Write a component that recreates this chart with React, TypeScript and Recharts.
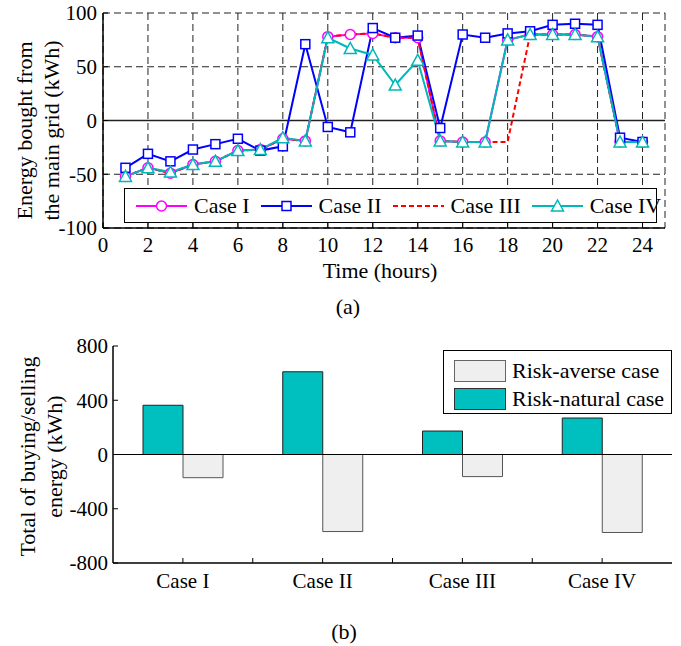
import {
  LineChart,
  Line,
  BarChart,
  Bar,
  XAxis,
  YAxis,
  CartesianGrid,
  ReferenceLine,
  Legend,
} from 'recharts'

const FONT = '"Liberation Serif", "Times New Roman", serif'

// (a) energy bought from the main grid, per hour
const hours = [1, 2, 3, 4, 5, 6, 7, 8, 9, 10, 11, 12, 13, 14, 15, 16, 17, 18, 19, 20, 21, 22, 23, 24]
const caseI = [-52, -44, -49, -41, -38, -28, -27, -17, -19, 78, 80, 81, 77, 77, -19, -20, -20, 75, 80, 80, 80, 78, -20, -20]
const caseII = [-44, -31, -38, -27, -22, -17, -28, -24, 71, -6, -11, 86, 77, 79, -7, 80, 77, 81, 83, 89, 90, 89, -16, -20]
const caseIII = [-52, -44, -49, -41, -38, -28, -27, -17, -19, 78, 80, 81, 77, 77, -19, -20, -20, -20, 80, 80, 80, 78, -20, -20]
const caseIV = [-52, -44, -48, -41, -38, -28, -27, -16, -19, 77, 67, 61, 33, 56, -19, -20, -20, 75, 80, 80, 80, 78, -20, -20]
const hourTicks = [0, 2, 4, 6, 8, 10, 12, 14, 16, 18, 20, 22, 24]
const energyTicks = [-100, -50, 0, 50, 100]

// (b) totals per case
const cases = ['Case I', 'Case II', 'Case III', 'Case IV']
const riskNatural = [363, 610, 173, 269]
const riskAverse = [-171, -568, -163, -575]
const caseTicks = [1, 1.5, 2, 2.5, 3, 3.5, 4]
const totalTicks = [-800, -400, 0, 400, 800]

const hourly = hours.map((h, i) => ({
  hour: h,
  c1: caseI[i],
  c2: caseII[i],
  c3: caseIII[i],
  c4: caseIV[i],
}))

const totals = cases.map((c, i) => ({
  pos: i + 1,
  name: c,
  natural: riskNatural[i],
  averse: riskAverse[i],
}))

const MAGENTA = '#FF00FF'
const BLUE = '#0000FF'
const RED = '#FF0000'
const CYAN = '#00B8B8'
const TEAL = '#00BFBF'
const LIGHT = '#EFEFEF'

const axisLine = { stroke: '#000', strokeWidth: 1.5 }
const tickLine = { stroke: '#000', strokeWidth: 1 }
const tickFont = { fill: '#000', fontSize: 21, fontFamily: FONT }

function CircleDot(props: any) {
  const { cx, cy, index } = props
  if (cx == null || cy == null) return <g key={'c' + index} />
  return <circle key={'c' + index} cx={cx} cy={cy} r={5} fill="#fff" stroke={MAGENTA} strokeWidth={1.5} />
}

function SquareDot(props: any) {
  const { cx, cy, index } = props
  if (cx == null || cy == null) return <g key={'s' + index} />
  return <rect key={'s' + index} x={cx - 4.5} y={cy - 4.5} width={9} height={9} fill="#fff" stroke={BLUE} strokeWidth={1.5} />
}

function TriangleDot(props: any) {
  const { cx, cy, index } = props
  if (cx == null || cy == null) return <g key={'t' + index} />
  const pts = `${cx},${cy - 6} ${cx - 6},${cy + 5} ${cx + 6},${cy + 5}`
  return <polygon key={'t' + index} points={pts} fill="#fff" stroke={CYAN} strokeWidth={1.5} />
}

const yLabel = (lines: string[], xs: number[], shift: number) => (props: any) => {
  const vb = props.viewBox || { x: 0, y: 0, width: 0, height: 0 }
  const cy = vb.y + vb.height / 2 + shift
  return (
    <g>
      {lines.map((t, i) => (
        <text
          key={t}
          x={vb.x + xs[i]}
          y={cy}
          transform={`rotate(-90, ${vb.x + xs[i]}, ${cy})`}
          textAnchor="middle"
          dominantBaseline="central"
          fontSize={22}
          fontFamily={FONT}
          fill="#000"
        >
          {t}
        </text>
      ))}
    </g>
  )
}

const timeLabel = (props: any) => {
  const vb = props.viewBox || { x: 0, y: 0, width: 0, height: 0 }
  return (
    <text x={vb.x + vb.width / 2 - 4} y={vb.y + 50} textAnchor="middle" fontSize={22} fontFamily={FONT} fill="#000">
      Time (hours)
    </text>
  )
}

function LegendLine({ color, dash, marker }: { color: string; dash?: string; marker?: string }) {
  return (
    <svg width={51} height={20} style={{ display: 'block' }}>
      <line x1={0} y1={10} x2={51} y2={10} stroke={color} strokeWidth={2} strokeDasharray={dash} />
      {marker === 'circle' && <circle cx={25.5} cy={10} r={5} fill="#fff" stroke={color} strokeWidth={1.5} />}
      {marker === 'square' && <rect x={21} y={5.5} width={9} height={9} fill="#fff" stroke={color} strokeWidth={1.5} />}
      {marker === 'triangle' && (
        <polygon points="25.5,4 19.5,15 31.5,15" fill="#fff" stroke={color} strokeWidth={1.5} />
      )}
    </svg>
  )
}

const lineLegendItems = [
  { label: 'Case I', color: MAGENTA, marker: 'circle' },
  { label: 'Case II', color: BLUE, marker: 'square' },
  { label: 'Case III', color: RED, dash: '5 3' },
  { label: 'Case IV', color: CYAN, marker: 'triangle' },
]

function LineLegend() {
  return (
    <div
      style={{
        display: 'flex',
        alignItems: 'center',
        gap: 11,
        boxSizing: 'border-box',
        width: 533,
        height: 35,
        padding: '0 6px 0 11px',
        border: '1.5px solid #000',
        background: '#fff',
        fontFamily: FONT,
        fontSize: 22,
        color: '#000',
        whiteSpace: 'nowrap',
      }}
    >
      {lineLegendItems.map((it) => (
        <div key={it.label} style={{ display: 'flex', alignItems: 'center', gap: 7 }}>
          <LegendLine color={it.color} dash={it.dash} marker={it.marker} />
          <span>{it.label}</span>
        </div>
      ))}
    </div>
  )
}

const barLegendItems = [
  { label: 'Risk-averse case', fill: LIGHT, stroke: '#666' },
  { label: 'Risk-natural case', fill: TEAL, stroke: '#333' },
]

function BarLegend() {
  return (
    <div
      style={{
        boxSizing: 'border-box',
        width: 229,
        height: 64,
        padding: '6px 0 0 10px',
        border: '1.5px solid #000',
        background: '#fff',
        fontFamily: FONT,
        fontSize: 22,
        color: '#000',
        whiteSpace: 'nowrap',
      }}
    >
      {barLegendItems.map((it) => (
        <div key={it.label} style={{ display: 'flex', alignItems: 'center', gap: 6, height: 28 }}>
          <div style={{ width: 50, height: 20, background: it.fill, border: `1px solid ${it.stroke}` }} />
          <span>{it.label}</span>
        </div>
      ))}
    </div>
  )
}

export default function App() {
  return (
    <div
      style={{
        position: 'absolute',
        left: 0,
        top: 0,
        width: 681,
        height: 646,
        background: '#fff',
        fontFamily: FONT,
      }}
    >
      <div style={{ position: 'absolute', left: 0, top: 0 }}>
        <LineChart width={681} height={290} data={hourly} margin={{ top: 13, right: 16, left: 0, bottom: 0 }}>
          <CartesianGrid stroke="#222" strokeWidth={1} strokeDasharray="7 4" />
          <XAxis
            dataKey="hour"
            type="number"
            domain={[0, 25]}
            allowDataOverflow
            ticks={hourTicks}
            interval={0}
            height={62}
            tickSize={-5}
            tickMargin={14}
            axisLine={axisLine}
            tickLine={tickLine}
            tick={tickFont}
            label={{ content: timeLabel }}
          />
          <XAxis
            xAxisId="top"
            orientation="top"
            dataKey="hour"
            type="number"
            domain={[0, 25]}
            allowDataOverflow
            ticks={hourTicks}
            interval={0}
            height={0}
            tickSize={-5}
            tick={false}
            axisLine={axisLine}
            tickLine={tickLine}
          />
          <YAxis
            type="number"
            domain={[-100, 100]}
            allowDataOverflow
            ticks={energyTicks}
            interval={0}
            width={103}
            tickSize={-5}
            tickMargin={11}
            axisLine={axisLine}
            tickLine={tickLine}
            tick={tickFont}
            label={{ content: yLabel(['Energy bought from', 'the main grid (kWh)'], [24, 51], 10) }}
          />
          <YAxis
            yAxisId="right"
            orientation="right"
            type="number"
            domain={[-100, 100]}
            allowDataOverflow
            ticks={energyTicks}
            interval={0}
            width={0}
            tickSize={-5}
            tick={false}
            axisLine={axisLine}
            tickLine={tickLine}
          />
          <ReferenceLine y={0} stroke="#222" strokeWidth={1.5} />
          <Line type="linear" dataKey="c1" name="Case I" stroke={MAGENTA} strokeWidth={2} dot={CircleDot} isAnimationActive={false} />
          <Line type="linear" dataKey="c2" name="Case II" stroke={BLUE} strokeWidth={2} dot={SquareDot} isAnimationActive={false} />
          <Line
            type="linear"
            dataKey="c3"
            name="Case III"
            stroke={RED}
            strokeWidth={2}
            strokeDasharray="5 3"
            dot={false}
            isAnimationActive={false}
          />
          <Line type="linear" dataKey="c4" name="Case IV" stroke={CYAN} strokeWidth={2} dot={TriangleDot} isAnimationActive={false} />
          <Legend
            layout="horizontal"
            verticalAlign="middle"
            align="center"
            wrapperStyle={{ position: 'absolute', left: 124, top: 188, width: 533 }}
            content={() => <LineLegend />}
          />
        </LineChart>
      </div>

      <svg width={681} height={646} style={{ position: 'absolute', left: 0, top: 0, pointerEvents: 'none' }}>
        <text x={348} y={306} textAnchor="middle" dominantBaseline="central" fontSize={22} fontFamily={FONT}>
          (a)
        </text>
        <text x={344} y={631} textAnchor="middle" dominantBaseline="central" fontSize={22} fontFamily={FONT}>
          (b)
        </text>
      </svg>

      <div style={{ position: 'absolute', left: 0, top: 330 }}>
        <BarChart width={681} height={300} data={totals} barGap={0} margin={{ top: 16, right: 9, left: 0, bottom: 0 }}>
          <XAxis
            dataKey="pos"
            type="number"
            domain={[0.5, 4.5]}
            allowDataOverflow
            ticks={caseTicks}
            interval={0}
            height={67}
            tickSize={-5}
            tickMargin={15}
            axisLine={axisLine}
            tickLine={tickLine}
            tick={tickFont}
            tickFormatter={(v: number) => (Number.isInteger(v) ? cases[v - 1] : '')}
          />
          <XAxis
            xAxisId="top"
            orientation="top"
            dataKey="pos"
            type="number"
            domain={[0.5, 4.5]}
            allowDataOverflow
            ticks={caseTicks}
            interval={0}
            height={0}
            tickSize={-5}
            tick={false}
            axisLine={axisLine}
            tickLine={tickLine}
          />
          <YAxis
            type="number"
            domain={[-800, 800]}
            allowDataOverflow
            ticks={totalTicks}
            interval={0}
            width={113}
            tickSize={-5}
            tickMargin={10}
            axisLine={axisLine}
            tickLine={tickLine}
            tick={tickFont}
            label={{ content: yLabel(['Total of buying/selling', 'energy (kWh)'], [27, 54], 2) }}
          />
          <YAxis
            yAxisId="right"
            orientation="right"
            type="number"
            domain={[-800, 800]}
            allowDataOverflow
            ticks={totalTicks}
            interval={0}
            width={0}
            tickSize={-5}
            tick={false}
            axisLine={axisLine}
            tickLine={tickLine}
          />
          <Bar dataKey="natural" name="Risk-natural case" fill={TEAL} stroke="#222" strokeWidth={1} barSize={40} isAnimationActive={false} />
          <Bar dataKey="averse" name="Risk-averse case" fill={LIGHT} stroke="#555" strokeWidth={1} barSize={40} isAnimationActive={false} />
          <ReferenceLine y={0} stroke="#000" strokeWidth={1} />
          <Legend
            layout="horizontal"
            verticalAlign="middle"
            align="center"
            wrapperStyle={{ position: 'absolute', left: 443, top: 20, width: 229 }}
            content={() => <BarLegend />}
          />
        </BarChart>
      </div>
    </div>
  )
}
